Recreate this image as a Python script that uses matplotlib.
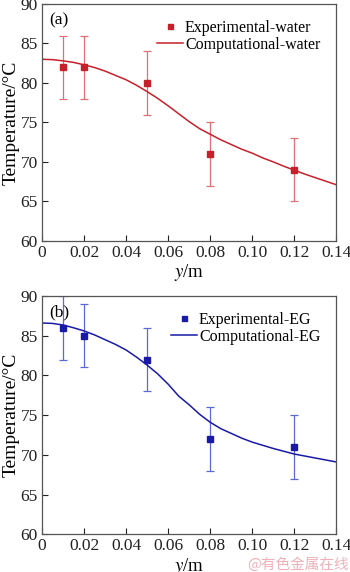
import matplotlib
matplotlib.use("Agg")
import matplotlib.pyplot as plt

plt.rcParams["font.family"] = ["Liberation Serif", "DejaVu Serif"]
plt.rcParams["mathtext.fontset"] = "stix"

# measured points
y_exp = [0.01, 0.02, 0.05, 0.08, 0.12]
t_water = [82, 82, 80, 71, 69]
t_eg = [86, 85, 82, 72, 71]
err = [4, 4, 4, 4, 4]

# computed profiles
y_calc = [0.0, 0.005, 0.01, 0.015, 0.02, 0.025, 0.03, 0.035, 0.04, 0.045, 0.05,
          0.055, 0.06, 0.065, 0.07, 0.075, 0.08, 0.085, 0.09, 0.095, 0.10,
          0.105, 0.11, 0.115, 0.12, 0.125, 0.13, 0.135, 0.14]
c_water = [83.0, 82.95, 82.8, 82.6, 82.3, 81.95, 81.5, 80.95, 80.4, 79.7, 78.9,
           78.05, 77.1, 76.1, 75.1, 74.2, 73.5, 72.8, 72.2, 71.6, 71.1,
           70.5, 70.0, 69.45, 68.95, 68.45, 68.0, 67.55, 67.1]
c_eg = [86.6, 86.55, 86.35, 86.0, 85.6, 85.1, 84.5, 83.9, 83.2, 82.3, 81.3,
        80.2, 78.9, 77.4, 76.3, 75.1, 74.1, 73.3, 72.7, 72.1, 71.6,
        71.2, 70.8, 70.45, 70.1, 69.85, 69.6, 69.35, 69.1]

xticks = [0, 0.02, 0.04, 0.06, 0.08, 0.10, 0.12, 0.14]
xlabels = ["0", "0.02", "0.04", "0.06", "0.08", "0.10", "0.12", "0.14"]
yticks = [60, 65, 70, 75, 80, 85, 90]

fig = plt.figure(figsize=(3.5, 5.72), dpi=100)
ax1 = fig.add_axes([0.12, 0.579, 0.841, 0.414])
ax2 = fig.add_axes([0.12, 0.066, 0.841, 0.4165])

panels = [
    (ax1, t_water, c_water, "#c8202a", "#e07078", "water", "(a)"),
    (ax2, t_eg, c_eg, "#1a1aa8", "#5a6ad0", "EG", "(b)"),
]

for ax, texp, tcalc, col, ecol, name, tag in panels:
    ax.errorbar(y_exp, texp, yerr=err, fmt="none", ecolor=ecol, elinewidth=0.9,
                capsize=3, capthick=0.9, zorder=2)
    ax.plot(y_exp, texp, "s", color=col, markersize=4, linestyle="none",
            label="Experimental-" + name, zorder=3)
    ax.plot(y_calc, tcalc, "-", color=col, linewidth=1.1,
            label="Computational-" + name, zorder=2)
    ax.set_xlim(0, 0.14)
    ax.set_ylim(60, 90)
    ax.set_xticks(xticks)
    ax.set_xticklabels(xlabels)
    ax.set_yticks(yticks)
    ax.tick_params(direction="in", length=4, width=0.8, labelsize=12.5,
                   colors="#222222", pad=3)
    for s in ax.spines.values():
        s.set_color("#555555")
        s.set_linewidth(0.9)
    ax.set_xlabel(r"$y$/m", fontsize=13.5, labelpad=1)
    ax.set_ylabel("Temperature/°C", fontsize=14, labelpad=1)
    ax.text(0.025, 0.965, tag, transform=ax.transAxes, fontsize=12.5,
            va="top", ha="left")
    ax.legend(loc="upper right", frameon=False, fontsize=11.5, handlelength=1.6,
              handletextpad=0.15, labelspacing=0.05, borderaxespad=0.7,
              borderpad=0.3, markerscale=0.9)

fig.text(0.997, 0.0, "@有色金属在线", fontsize=10.5, color="#f0b0b8",
         ha="right", va="bottom", family=["Noto Sans CJK SC", "DejaVu Sans"])

fig.savefig("out.png", dpi=100)
